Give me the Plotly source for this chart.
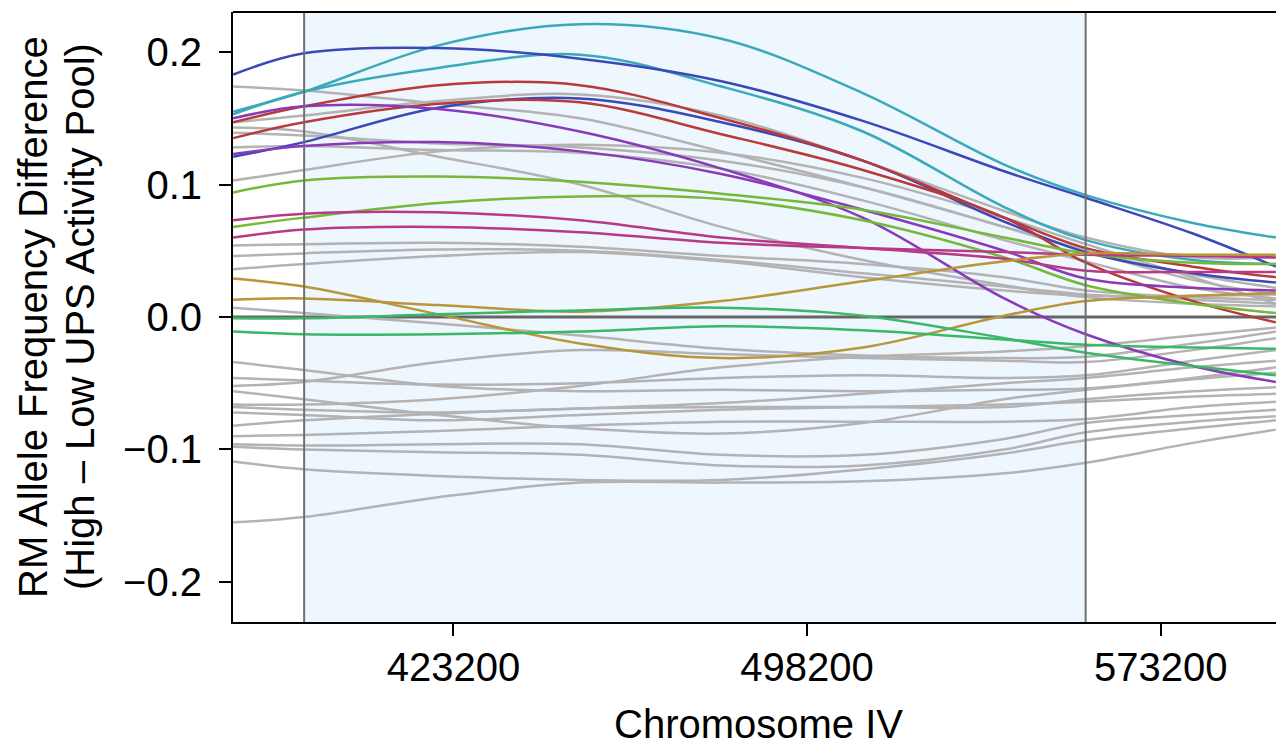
import plotly.graph_objects as go

# ---------------- data ----------------
positions = [376500, 391500, 420000, 450000, 480000, 510000, 540000, 557300, 580000, 597600]

x_ticks = [423200, 498200, 573200]
x_tick_labels = ["423200", "498200", "573200"]
y_ticks = [-0.2, -0.1, 0.0, 0.1, 0.2]
y_tick_labels = ["\u22120.2", "\u22120.1", "0.0", "0.1", "0.2"]

region_start = 391543
region_end = 557265

gray_series = [
    [0.174, 0.171, 0.161, 0.150, 0.125, 0.098, 0.068, 0.050, 0.032, 0.022],
    [0.147, 0.152, 0.163, 0.168, 0.152, 0.118, 0.080, 0.060, 0.045, 0.045],
    [0.143, 0.140, 0.121, 0.100, 0.068, 0.043, 0.024, 0.015, 0.010, 0.008],
    [0.139, 0.137, 0.131, 0.128, 0.118, 0.098, 0.068, 0.050, 0.028, 0.017],
    [0.128, 0.129, 0.126, 0.124, 0.112, 0.088, 0.058, 0.042, 0.022, 0.014],
    [0.103, 0.111, 0.125, 0.130, 0.124, 0.105, 0.075, 0.055, 0.030, 0.010],
    [0.054, 0.055, 0.056, 0.053, 0.046, 0.040, 0.030, 0.020, 0.015, 0.013],
    [0.046, 0.048, 0.051, 0.050, 0.043, 0.033, 0.023, 0.017, 0.013, 0.010],
    [0.036, 0.040, 0.046, 0.049, 0.042, 0.030, 0.020, 0.016, 0.016, 0.017],
    [0.007, 0.003, -0.005, -0.014, -0.024, -0.029, -0.031, -0.030, -0.020, -0.011],
    [-0.052, -0.049, -0.034, -0.025, -0.028, -0.031, -0.033, -0.034, -0.025, -0.016],
    [-0.066, -0.066, -0.062, -0.052, -0.038, -0.030, -0.026, -0.022, -0.014, -0.008],
    [-0.046, -0.048, -0.051, -0.050, -0.046, -0.044, -0.046, -0.044, -0.033, -0.025],
    [-0.034, -0.040, -0.052, -0.056, -0.055, -0.056, -0.055, -0.054, -0.046, -0.038],
    [-0.068, -0.070, -0.072, -0.069, -0.065, -0.058, -0.050, -0.046, -0.038, -0.033],
    [-0.056, -0.062, -0.074, -0.084, -0.088, -0.080, -0.062, -0.055, -0.047, -0.042],
    [-0.082, -0.078, -0.073, -0.069, -0.068, -0.068, -0.068, -0.062, -0.056, -0.053],
    [-0.072, -0.074, -0.078, -0.074, -0.070, -0.068, -0.066, -0.064, -0.060, -0.058],
    [-0.090, -0.089, -0.086, -0.082, -0.079, -0.079, -0.079, -0.077, -0.068, -0.064],
    [-0.096, -0.097, -0.096, -0.096, -0.104, -0.104, -0.092, -0.080, -0.074, -0.070],
    [-0.098, -0.100, -0.102, -0.104, -0.112, -0.112, -0.100, -0.087, -0.079, -0.075],
    [-0.109, -0.115, -0.120, -0.123, -0.123, -0.115, -0.103, -0.093, -0.084, -0.078],
    [-0.155, -0.151, -0.136, -0.125, -0.125, -0.124, -0.118, -0.110, -0.095, -0.085],
]

teal_a = [0.155, 0.170, 0.205, 0.221, 0.210, 0.169, 0.115, 0.092, 0.071, 0.060]
teal_b = [0.153, 0.170, 0.188, 0.198, 0.174, 0.140, 0.083, 0.058, 0.043, 0.040]
blue_a = [0.183, 0.199, 0.203, 0.195, 0.178, 0.148, 0.110, 0.090, 0.063, 0.038]
blue_b = [0.121, 0.132, 0.158, 0.165, 0.147, 0.118, 0.072, 0.049, 0.033, 0.026]
red_a = [0.147, 0.159, 0.175, 0.175, 0.150, 0.118, 0.075, 0.052, 0.038, 0.030]
red_b = [0.135, 0.147, 0.161, 0.162, 0.138, 0.111, 0.075, 0.041, 0.012, -0.004]
purple_a = [0.150, 0.159, 0.157, 0.140, 0.112, 0.075, 0.014, -0.013, -0.037, -0.049]
purple_b = [0.123, 0.129, 0.132, 0.125, 0.108, 0.081, 0.050, 0.029, 0.022, 0.020]
lime_a = [0.094, 0.103, 0.106, 0.102, 0.093, 0.081, 0.060, 0.048, 0.041, 0.040]
lime_b = [0.068, 0.075, 0.086, 0.091, 0.089, 0.073, 0.045, 0.024, 0.010, 0.003]
magenta_a = [0.073, 0.078, 0.079, 0.073, 0.060, 0.052, 0.044, 0.035, 0.034, 0.034]
magenta_b = [0.060, 0.066, 0.068, 0.064, 0.056, 0.052, 0.049, 0.047, 0.046, 0.045]
gold_a = [0.029, 0.023, 0.002, -0.020, -0.031, -0.023, 0.001, 0.012, 0.016, 0.018]
gold_b = [0.013, 0.014, 0.009, 0.004, 0.012, 0.027, 0.042, 0.048, 0.047, 0.047]
green_a = [-0.001, -0.001, 0.002, 0.005, 0.007, 0.001, -0.016, -0.027, -0.037, -0.044]
green_b = [-0.011, -0.013, -0.013, -0.011, -0.007, -0.010, -0.017, -0.021, -0.023, -0.024]

colored_series = [
    (teal_a, "#3AAAB9"), (teal_b, "#3AAAB9"),
    (blue_a, "#3A48B8"), (blue_b, "#3A48B8"),
    (red_a, "#B83A3A"), (red_b, "#B83A3A"),
    (purple_a, "#8A3AB8"), (purple_b, "#8A3AB8"),
    (lime_a, "#76B83A"), (lime_b, "#76B83A"),
    (magenta_a, "#B83A86"), (magenta_b, "#B83A86"),
    (gold_a, "#B8963A"), (gold_b, "#B8963A"),
    (green_a, "#3AB868"), (green_b, "#3AB868"),
]

# ---------------- figure ----------------
fig = go.Figure()

for ys in gray_series:
    fig.add_trace(go.Scatter(x=positions, y=ys, mode="lines",
                             line=dict(color="#B3B3B3", width=2.5, shape="spline", smoothing=1.0),
                             hoverinfo="skip", showlegend=False))

for ys, col in colored_series:
    fig.add_trace(go.Scatter(x=positions, y=ys, mode="lines",
                             line=dict(color=col, width=2.5, shape="spline", smoothing=1.0),
                             hoverinfo="skip", showlegend=False))

font_family = "Liberation Sans, Arial, sans-serif"

shapes = [
    dict(type="rect", xref="x", yref="paper", x0=region_start, x1=region_end, y0=0, y1=1,
         fillcolor="#EEF6FE", line=dict(width=0), layer="below"),
    dict(type="line", xref="paper", yref="y", x0=0, x1=1, y0=0, y1=0,
         line=dict(color="#666666", width=3), layer="below"),
    dict(type="line", xref="x", yref="paper", x0=region_start, x1=region_start, y0=0, y1=1,
         line=dict(color="#707070", width=2), layer="above"),
    dict(type="line", xref="x", yref="paper", x0=region_end, x1=region_end, y0=0, y1=1,
         line=dict(color="#707070", width=2), layer="above"),
    dict(type="line", xref="paper", yref="paper", x0=0, x1=1, y0=1, y1=1,
         line=dict(color="black", width=2), layer="above"),
]

annotations = [
    dict(text="RM Allele Frequency Difference", xref="paper", yref="paper",
         x=(33 - 233) / 1043, y=0.5, xanchor="center", yanchor="middle", textangle=-90,
         showarrow=False, font=dict(family=font_family, size=40, color="black")),
    dict(text="(High \u2013 Low UPS Activity Pool)", xref="paper", yref="paper",
         x=(80 - 233) / 1043, y=0.5, xanchor="center", yanchor="middle", textangle=-90,
         showarrow=False, font=dict(family=font_family, size=40, color="black")),
    dict(text="Chromosome IV", xref="paper", yref="paper",
         x=(758 - 233) / 1043, y=(622 - 724) / 610, xanchor="center", yanchor="middle",
         showarrow=False, font=dict(family=font_family, size=40, color="black")),
]

fig.update_layout(
    width=1276, height=750,
    margin=dict(l=233, r=0, t=12, b=128, pad=0, autoexpand=False),
    paper_bgcolor="white", plot_bgcolor="white",
    showlegend=False,
    font=dict(family=font_family, size=40, color="black"),
    shapes=shapes, annotations=annotations,
    xaxis=dict(range=[376458, 597633], tickvals=x_ticks, ticktext=x_tick_labels,
               automargin=False,
               showgrid=False, zeroline=False, showline=True, linecolor="black", linewidth=2,
               ticks="outside", ticklen=12, tickwidth=2, tickcolor="black",
               ticklabelstandoff=-3, tickfont=dict(size=40)),
    yaxis=dict(range=[-0.2302, 0.2302], tickvals=y_ticks, ticktext=y_tick_labels,
               automargin=False,
               showgrid=False, zeroline=False, showline=True, linecolor="black", linewidth=2,
               ticks="outside", ticklen=12, tickwidth=2, tickcolor="black",
               ticklabelstandoff=9, tickfont=dict(size=40)),
)

fig.write_html("out.html",
               config={"displayModeBar": False},
               post_script="document.body.style.margin='0';document.body.style.padding='0';")
